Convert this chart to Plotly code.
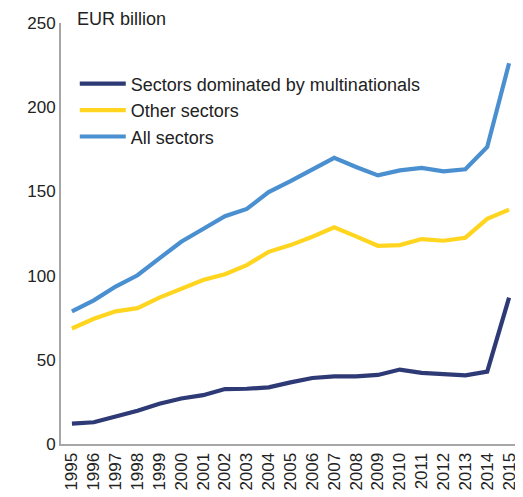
import plotly.graph_objects as go

years = list(range(1995, 2016))
multinationals = [12.1, 12.9, 16.3, 19.7, 23.9, 27.0, 29.0, 32.6, 32.8, 33.6, 36.6, 39.2, 40.2, 40.2, 41.0, 44.2, 42.2, 41.2, 40.8, 43.0, 86.9]
other = [68.6, 74.4, 78.8, 80.7, 86.9, 92.3, 97.4, 100.8, 106.2, 114.1, 118.1, 123.1, 128.7, 123.3, 117.7, 118.1, 121.7, 120.7, 122.5, 133.7, 139.2]
all_sectors = [78.8, 85.3, 93.5, 100.2, 110.2, 120.1, 127.7, 135.3, 139.6, 149.6, 156.1, 163.1, 169.9, 164.5, 159.5, 162.5, 163.9, 161.9, 163.1, 176.4, 226.1]

names = ["Sectors dominated by multinationals", "Other sectors", "All sectors"]
colors = ["#2E3A75", "#FFD520", "#4A90D0"]
series = [multinationals, other, all_sectors]

font = "Liberation Sans, Arial, sans-serif"
fig = go.Figure()
for n, c, s in zip(names, colors, series):
    fig.add_trace(go.Scatter(x=years, y=s, name=n, mode="lines",
                             line=dict(color=c, width=4.2)))

fig.update_layout(
    width=515, height=489,
    margin=dict(l=53, r=3, t=15, b=53),
    paper_bgcolor="white", plot_bgcolor="white",
    font=dict(family=font, size=17, color="#222222"),
    showlegend=True,
    legend=dict(x=0.03, y=0.899, xanchor="left", yanchor="top",
                bgcolor="rgba(0,0,0,0)", font=dict(size=18, color="#222222"),
                tracegroupgap=0, itemwidth=46),
    xaxis=dict(range=[1994.5, 2015.5], tickmode="array", tickvals=years,
               ticktext=[str(y) for y in years], tickangle=-90,
               showgrid=False, zeroline=False, showline=True,
               linecolor="#A6A6A6", linewidth=2, ticks="", fixedrange=True),
    yaxis=dict(range=[0, 250], tickvals=[0, 50, 100, 150, 200, 250],
               showgrid=False, zeroline=False, showline=True,
               linecolor="#A6A6A6", linewidth=2, ticks="", ticklen=0,
               fixedrange=True),
    annotations=[dict(text="EUR billion", x=0, y=1, xref="paper", yref="paper",
                      xanchor="left", yanchor="middle", xshift=14, yshift=4,
                      showarrow=False, font=dict(size=18, color="#222222"))],
)

fig.write_html("out.html")
